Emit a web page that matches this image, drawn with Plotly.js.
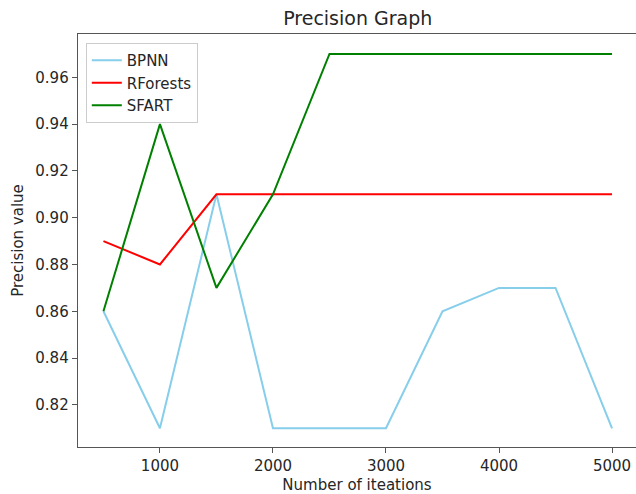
<!DOCTYPE html>
<html><head><meta charset="utf-8">
<script src="https://cdn.plot.ly/plotly-3.0.1.min.js"></script>
<style>html,body{margin:0;padding:0;background:#fff}#c{width:636px;height:494px}</style>
</head><body><div id="c"></div>
<script>
const iterations = [500, 1000, 1500, 2000, 2500, 3000, 3500, 4000, 4500, 5000];
const bpnn = [0.86, 0.81, 0.91, 0.81, 0.81, 0.81, 0.86, 0.87, 0.87, 0.81];
const rforests = [0.89, 0.88, 0.91, 0.91, 0.91, 0.91, 0.91, 0.91, 0.91, 0.91];
const sfart = [0.86, 0.94, 0.87, 0.91, 0.97, 0.97, 0.97, 0.97, 0.97, 0.97];
const xTicks = [1000, 2000, 3000, 4000, 5000];
const yTicks = [0.82, 0.84, 0.86, 0.88, 0.90, 0.92, 0.94, 0.96];

const font = {family: 'DejaVu Sans', size: 15, color: '#262626'};
const traces = [
  {x: iterations, y: bpnn, name: 'BPNN', mode: 'lines', line: {color: '#87ceeb', width: 2}},
  {x: iterations, y: rforests, name: 'RForests', mode: 'lines', line: {color: '#ff0000', width: 2}},
  {x: iterations, y: sfart, name: 'SFART', mode: 'lines', line: {color: '#008000', width: 2}}
];
const layout = {
  width: 636, height: 494,
  margin: {l: 78, r: 0, t: 34, b: 47},
  paper_bgcolor: '#fff', plot_bgcolor: '#fff',
  font: font,
  title: {text: 'Precision Graph', font: {family: 'DejaVu Sans', size: 19, color: '#262626'}, x: 0.5625, xanchor: 'center', y: 0.962, yanchor: 'middle'},
  xaxis: {
    range: [275, 5212], tickvals: xTicks, ticktext: xTicks.map(String),
    showgrid: false, zeroline: false, showline: true, mirror: true, linecolor: '#555', linewidth: 1.3,
    ticks: 'outside', ticklen: 5, tickcolor: '#555', tickfont: font,
    title: {text: 'Number of iteations', font: font, standoff: 8}
  },
  yaxis: {
    range: [0.802, 0.9785], tickvals: yTicks, ticktext: yTicks.map(v => v.toFixed(2)),
    showgrid: false, zeroline: false, showline: true, mirror: true, linecolor: '#555', linewidth: 1.3,
    ticks: 'outside', ticklen: 5, tickcolor: '#555', tickfont: font,
    title: {text: 'Precision value', font: font, standoff: 8}
  },
  showlegend: true,
  legend: {x: 0.014, y: 0.978, xanchor: 'left', yanchor: 'top', bgcolor: 'rgba(255,255,255,0.8)',
    bordercolor: '#cccccc', borderwidth: 1, font: font, tracegroupgap: 0, itemwidth: 30}
};
Plotly.newPlot('c', traces, layout, {displayModeBar: false, staticPlot: true});
</script></body></html>
